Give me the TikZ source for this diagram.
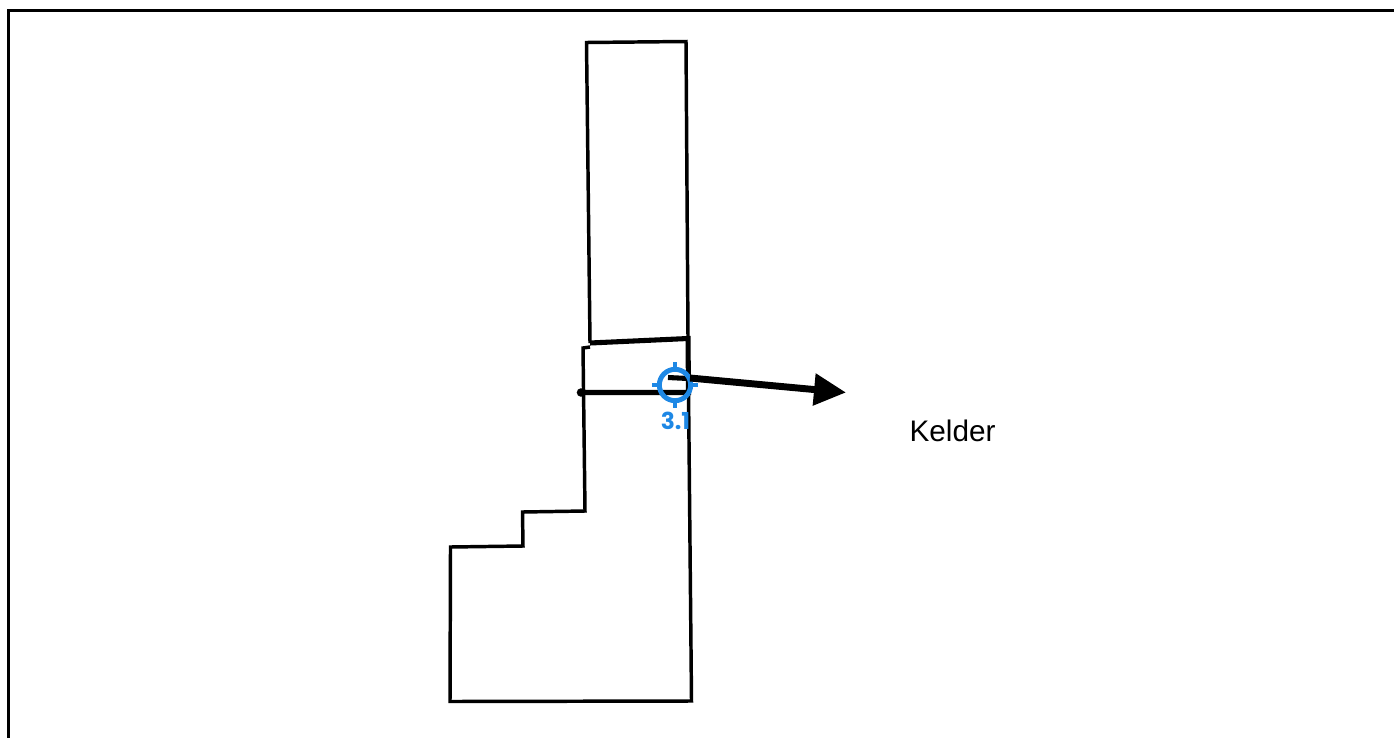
\documentclass[tikz,border=0pt]{standalone}
\usepackage{fontspec}
\setmainfont{Liberation Sans}
\newfontfamily\targetfont{Poppins}
\usetikzlibrary{arrows.meta}
\definecolor{targetblue}{HTML}{1E88E5}

\begin{document}
\begin{tikzpicture}[
x=0.75pt,y=-0.75pt,
frame/.style={
  draw,
  line width=2.4pt
},
wall/.style={
  draw,
  line width=2.6pt,
  line join=miter
},
thickwall/.style={
  draw,
  line width=3.8pt
},
target/.style={
  draw=targetblue,
  line width=3.7pt
},
pointer/.style={
  draw,
  line width=5.2pt,
  -{Triangle[length=24pt,width=23pt]}
}
]
\useasboundingbox (0,0) rectangle (1394,738);
\draw[frame] (8.5,738) -- (8.5,10.5) -- (1394,10.5);

% outline
\draw[wall] (590,343) -- (586.5,42.5) -- (686,41.5) -- (688,338) -- (691.5,701)
  -- (450,701.5) -- (450.5,547) -- (523,546) -- (522.5,512) -- (585,511)
  -- (583,348) -- (590,347);

% inner lines
\coordinate (stairL) at (581,392.5);
\coordinate (stairR) at (688.5,392.5);
\coordinate (landL) at (590,343);
\coordinate (landR) at (688,338.5);
\coordinate (stepL) at (668,377.5);
\coordinate (stepR) at (688,378.5);
\draw[thickwall] (landL) -- (landR) -- (stairR) -- (stairL);
\draw[thickwall] (stepL) -- (stepR);
\fill (stairL) circle (3.2pt);

% target
\node[circle,target,minimum size=23.5pt,inner sep=0pt] (mark) at (675,385) {};
\draw[target] (mark.north) ++(0,-4.5) -- ++(0,10);
\draw[target] (mark.south) ++(0,-5.5) -- ++(0,10);
\draw[target] (mark.west) ++(-4.5,0) -- ++(10,0);
\draw[target] (mark.east) ++(-5.5,0) -- ++(10,0);
\node[text=targetblue,font=\targetfont\bfseries\fontsize{17.5}{17.5}\selectfont,inner sep=0pt] (num) at (675.5,420.5) {3.1};

% arrow
\coordinate (from) at (690,378);
\coordinate (to) at (846,392.5);
\draw[pointer] (from) -- (to);
\node[font=\fontsize{22.3}{26}\selectfont,inner sep=0pt] (kelder) at (952.5,431) {Kelder};
\end{tikzpicture}
\end{document}
